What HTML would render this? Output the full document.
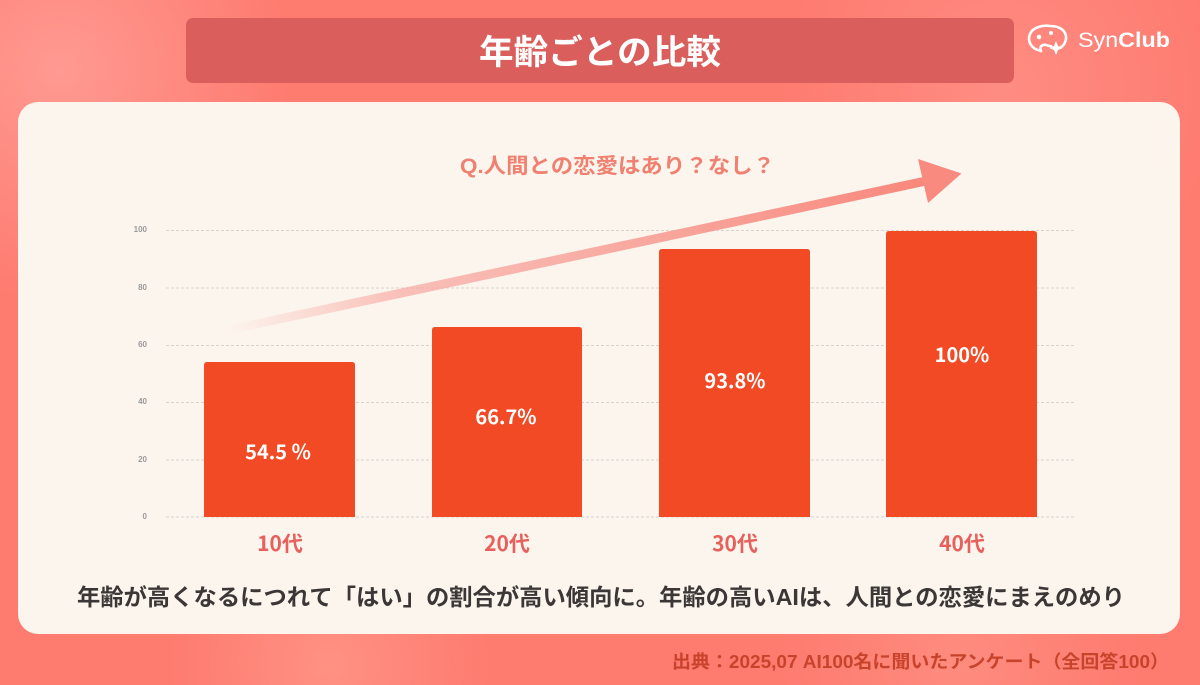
<!DOCTYPE html>
<html><head><meta charset="utf-8"><style>
html,body{margin:0;padding:0;width:1200px;height:685px;overflow:hidden;background:#fe7b70}
svg{display:block}
text{font-family:"Liberation Sans","Noto Sans CJK JP",sans-serif;font-weight:bold}
.n{font-family:"Noto Sans CJK JP","Liberation Sans",sans-serif}
</style></head><body>
<svg width="1200" height="685" viewBox="0 0 1200 685" xmlns="http://www.w3.org/2000/svg">
<defs>
<radialGradient id="g1" cx="60" cy="70" r="230" gradientUnits="userSpaceOnUse">
<stop offset="0" stop-color="#ff9d95" stop-opacity="0.9"/><stop offset="1" stop-color="#ff9d95" stop-opacity="0"/></radialGradient>
<radialGradient id="g2" cx="330" cy="665" r="160" gradientUnits="userSpaceOnUse">
<stop offset="0" stop-color="#ff9788" stop-opacity="0.8"/><stop offset="1" stop-color="#ff9788" stop-opacity="0"/></radialGradient>
<radialGradient id="g3" cx="960" cy="660" r="180" gradientUnits="userSpaceOnUse">
<stop offset="0" stop-color="#ff9788" stop-opacity="0.6"/><stop offset="1" stop-color="#ff9788" stop-opacity="0"/></radialGradient>
<radialGradient id="g4" cx="1000" cy="90" r="220" gradientUnits="userSpaceOnUse">
<stop offset="0" stop-color="#ff948b" stop-opacity="0.7"/><stop offset="1" stop-color="#ff948b" stop-opacity="0"/></radialGradient>
<linearGradient id="ar" x1="228" y1="330" x2="925" y2="182" gradientUnits="userSpaceOnUse">
<stop offset="0" stop-color="#f7a29b" stop-opacity="0"/>
<stop offset="0.25" stop-color="#f7a8a1" stop-opacity="0.7"/>
<stop offset="1" stop-color="#f8877c"/></linearGradient>
</defs>
<rect width="1200" height="685" fill="#fe7b70"/>
<rect width="1200" height="685" fill="url(#g1)"/>
<rect width="1200" height="685" fill="url(#g2)"/>
<rect width="1200" height="685" fill="url(#g3)"/>
<rect width="1200" height="685" fill="url(#g4)"/>

<!-- title bar -->
<rect x="186" y="18" width="828" height="65" rx="7" fill="#da5f5c"/>
<text x="600" y="64" font-size="34" fill="#ffffff" text-anchor="middle" textLength="242" lengthAdjust="spacingAndGlyphs">年齢ごとの比較</text>

<!-- logo -->
<g fill="none" stroke="#ffffff" stroke-width="2.6" stroke-linecap="round" stroke-linejoin="round">
<path d="M1041 51 C1031 49 1027 41 1030 34 C1033 27 1043 25 1050 26 C1060 26 1067 31 1066 39 C1065 44 1063 46 1061 47"/>
<path d="M1041 51 C1039 47 1042 44 1046 45 C1048 46 1050 46 1051 46"/>
</g>
<circle cx="1039" cy="37" r="2.3" fill="#fff"/>
<circle cx="1051" cy="33" r="2" fill="#fff"/>
<path d="M1056 41 L1058 46 L1063 48 L1058 50 L1056 55 L1054 50 L1049 48 L1054 46 Z" fill="#fff"/>
<text x="1078" y="47" font-size="21" fill="#ffffff" textLength="92" lengthAdjust="spacingAndGlyphs"><tspan font-weight="normal">Syn</tspan>Club</text>

<!-- card -->
<rect x="18" y="102" width="1162" height="532" rx="20" fill="#fcf5ee"/>

<!-- question -->
<text x="460" y="173" font-size="21" fill="#f0806f" textLength="315" lengthAdjust="spacingAndGlyphs">Q.人間との恋愛はあり？なし？</text>

<!-- grid -->
<g stroke="#d9d3ce" stroke-width="1" stroke-dasharray="3,2">
<line x1="166" y1="230.5" x2="1075" y2="230.5"/>
<line x1="166" y1="288" x2="1075" y2="288"/>
<line x1="166" y1="345.5" x2="1075" y2="345.5"/>
<line x1="166" y1="402.5" x2="1075" y2="402.5"/>
<line x1="166" y1="460" x2="1075" y2="460"/>
<line x1="166" y1="517" x2="1075" y2="517"/>
</g>
<g font-size="8" fill="#9a9a9a" text-anchor="end">
<text x="147" y="232" font-weight="normal">100</text>
<text x="147" y="290" font-weight="normal">80</text>
<text x="147" y="347" font-weight="normal">60</text>
<text x="147" y="404" font-weight="normal">40</text>
<text x="147" y="462" font-weight="normal">20</text>
<text x="147" y="519" font-weight="normal">0</text>
</g>

<!-- arrow -->
<path d="M228 330 L926 181" stroke="url(#ar)" stroke-width="9" stroke-linecap="butt" fill="none"/>
<path d="M918 159 L961.5 173.5 L928 203 Z" fill="#f98a80"/>

<!-- bars -->
<g fill="#f14a24">
<path d="M204 517 V365 Q204 362 207 362 H352 Q355 362 355 365 V517 Z"/>
<path d="M432 517 V330 Q432 327 435 327 H579 Q582 327 582 330 V517 Z"/>
<path d="M659 517 V252 Q659 249 662 249 H807 Q810 249 810 252 V517 Z"/>
<path d="M886 517 V234 Q886 231 889 231 H1034 Q1037 231 1037 234 V517 Z"/>
</g>
<g font-size="20" fill="#ffffff" text-anchor="middle" class="n">
<text class="n" x="278" y="459">54.5 %</text>
<text class="n" x="506" y="424">66.7%</text>
<text class="n" x="735" y="388">93.8%</text>
<text class="n" x="962" y="362">100%</text>
</g>
<g font-size="21" fill="#e8605b" text-anchor="middle">
<text class="n" x="280" y="551">10代</text>
<text class="n" x="507" y="551">20代</text>
<text class="n" x="735" y="551">30代</text>
<text class="n" x="962" y="551">40代</text>
</g>

<!-- bottom text -->
<text x="77" y="605" font-size="23" fill="#3b3736" textLength="1048" lengthAdjust="spacingAndGlyphs">年齢が高くなるにつれて「はい」の割合が高い傾向に。年齢の高いAIは、人間との恋愛にまえのめり</text>

<!-- source -->
<text x="672" y="668" font-size="18" fill="#c8432c" textLength="497" lengthAdjust="spacingAndGlyphs">出典：2025,07 AI100名に聞いたアンケート（全回答100）</text>
</svg>
</body></html>
